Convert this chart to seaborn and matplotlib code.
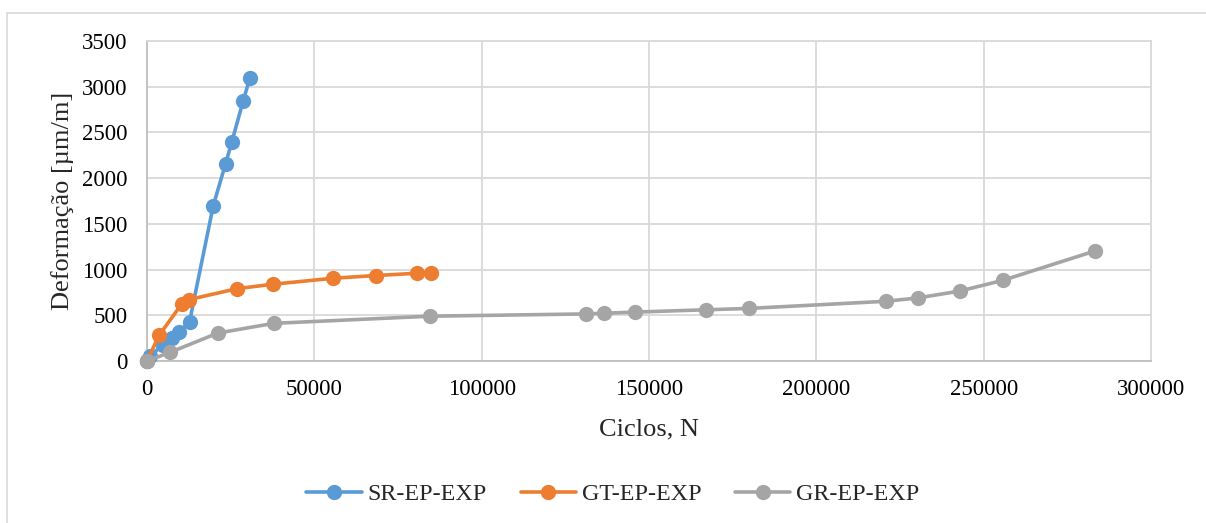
import matplotlib
matplotlib.use("Agg")
import matplotlib.pyplot as plt
from matplotlib.lines import Line2D
from matplotlib.patches import Rectangle
import seaborn as sns
import pandas as pd

# Cycle counts and measured strain for each test series
sr_ciclos = [0, 1000, 4800, 7400, 9600, 12700, 19800, 23500, 25300, 28700, 30700]
sr_deform = [0, 60, 175, 255, 320, 428, 1700, 2160, 2390, 2840, 3090]

gt_ciclos = [0, 3600, 10400, 12600, 27000, 37700, 55600, 68400, 80800, 84900]
gt_deform = [0, 280, 625, 672, 792, 840, 905, 935, 960, 963]

gr_ciclos = [0, 6900, 21200, 37900, 84600, 131100, 136600, 145900, 166900,
             179800, 220700, 230400, 243000, 255800, 283300]
gr_deform = [0, 95, 306, 412, 490, 515, 522, 535, 560, 575, 653, 690, 766, 883, 1204]

series_names = ["SR-EP-EXP", "GT-EP-EXP", "GR-EP-EXP"]
series_colors = ["#5B9BD5", "#ED7D31", "#A5A5A5"]

x_ticks = [0, 50000, 100000, 150000, 200000, 250000, 300000]
y_ticks = [0, 500, 1000, 1500, 2000, 2500, 3000, 3500]

frames = []
for name, xs, ys in zip(series_names,
                        [sr_ciclos, gt_ciclos, gr_ciclos],
                        [sr_deform, gt_deform, gr_deform]):
    frames.append(pd.DataFrame({"Ciclos": xs, "Deformacao": ys, "Serie": name}))
df = pd.concat(frames, ignore_index=True)

sns.set_theme(style="white")
plt.rcParams["font.family"] = ["Liberation Serif", "DejaVu Serif"]

fig = plt.figure(figsize=(12.06, 5.23), dpi=100)
ax = fig.add_axes([147 / 1206, 1 - 361 / 523, (1151 - 147) / 1206, (361 - 41) / 523])

# Light outer frame around the chart area
fig.patches.append(Rectangle((7 / 1206, -0.05), 1.2, (523 - 12.5) / 523 + 0.05,
                             transform=fig.transFigure, fill=False,
                             edgecolor="#D9D9D9", linewidth=1.2, zorder=0))

# Later series are drawn over earlier ones
for name, color in zip(series_names, series_colors):
    sub = df[df["Serie"] == name]
    sns.lineplot(data=sub, x="Ciclos", y="Deformacao", ax=ax, color=color,
                 sort=False, estimator=None, linewidth=2.6, marker="o",
                 markersize=11, markeredgewidth=0, legend=False, clip_on=False,
                 zorder=3)

ax.set_xlim(0, 300000)
ax.set_ylim(0, 3500)
ax.set_xticks(x_ticks)
ax.set_yticks(y_ticks)
ax.set_xticklabels([str(v) for v in x_ticks])
ax.set_yticklabels([str(v) for v in y_ticks])
ax.tick_params(axis="both", length=0, labelsize=16.5, colors="black")
ax.tick_params(axis="y", pad=14)
ax.tick_params(axis="x", pad=13)

ax.grid(True, color="#D9D9D9", linewidth=1.3)
ax.set_axisbelow(True)
for side in ["top", "right"]:
    ax.spines[side].set_color("#D9D9D9")
    ax.spines[side].set_linewidth(1.3)
for side in ["left", "bottom"]:
    ax.spines[side].set_color("#BFBFBF")
    ax.spines[side].set_linewidth(1.3)

ax.set_xlabel("Ciclos, N", fontsize=19, labelpad=13)
ax.set_ylabel("Deformação [µm/m]", fontsize=19, labelpad=6)

handles = [Line2D([0], [0], color=c, linewidth=2.6, marker="o", markersize=11,
                  markeredgewidth=0) for c in series_colors]
fig.legend(handles, series_names, loc="center", ncol=3, frameon=False,
           bbox_to_anchor=(613 / 1206, 1 - 494 / 523), fontsize=17.3,
           handlelength=2.3, handletextpad=0.25, columnspacing=1.4)

fig.savefig("out.png", dpi=100, facecolor="white")
